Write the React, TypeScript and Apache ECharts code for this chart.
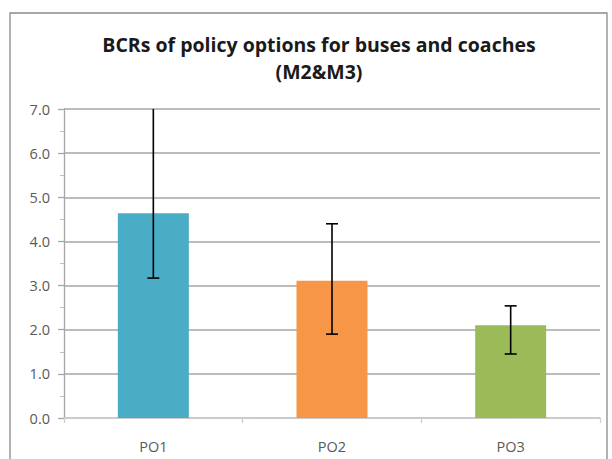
import React, { useEffect, useRef } from "react";
import * as echarts from "echarts";

const categories = ["PO1", "PO2", "PO3"];
const values = [4.64, 3.11, 2.1];
const lows = [3.17, 1.9, 1.45];
const highs = [7.6, 4.4, 2.54];
const barColors = ["#4BACC6", "#F79646", "#9BBB59"];
const yTicks = [0, 1, 2, 3, 4, 5, 6, 7];
const titleText = "BCRs of policy options for buses and coaches\n(M2&M3)";

export default function App() {
  const ref = useRef<HTMLDivElement>(null);
  useEffect(() => {
    if (!ref.current) return;
    const chart = echarts.init(ref.current, null, { renderer: "svg" });
    const yMax = yTicks[yTicks.length - 1];
    chart.setOption({
      animation: false,
      backgroundColor: "#ffffff",
      title: {
        text: titleText,
        left: 314,
        top: 26,
        textAlign: "center",
        textStyle: {
          fontFamily: "Open Sans",
          fontWeight: "bold",
          fontSize: 19.5,
          lineHeight: 27,
          color: "#1a1a1a",
        },
      },
      graphic: [
        {
          type: "rect",
          shape: { x: 10, y: 13, width: 597, height: 470 },
          style: { fill: "none", stroke: "#8a8a8a", lineWidth: 1.3 },
          silent: true,
          z: -1,
        },
      ],
      grid: { left: 64, right: 12, top: 109, bottom: 41, containLabel: false },
      xAxis: {
        type: "category",
        data: categories,
        axisLine: { lineStyle: { color: "#cfcfcf", width: 1.5 } },
        axisTick: { show: true, length: 5, lineStyle: { color: "#cfcfcf", width: 1.3 } },
        axisLabel: {
          fontFamily: "Open Sans",
          fontSize: 14.5,
          color: "#595959",
          margin: 21,
        },
      },
      yAxis: {
        type: "value",
        min: 0,
        max: yMax,
        interval: 1,
        axisLine: { show: true, lineStyle: { color: "#a6a6a6", width: 1.3 } },
        axisTick: { show: true, length: 6, lineStyle: { color: "#a6a6a6", width: 1.3 } },
        minorTick: { show: true, splitNumber: 2, length: 4, lineStyle: { color: "#bfbfbf" } },
        splitLine: { show: true, lineStyle: { color: "#a6a6a6", width: 1.5 } },
        axisLabel: {
          fontFamily: "Open Sans",
          fontSize: 14.5,
          color: "#595959",
          margin: 14,
          formatter: (v: number) => v.toFixed(1),
        },
      },
      series: [
        {
          type: "bar",
          barWidth: 71,
          data: values.map((v, i) => ({ value: v, itemStyle: { color: barColors[i] } })),
        },
        {
          type: "custom",
          data: categories.map((c, i) => [i, lows[i], highs[i]]),
          renderItem: (params: any, api: any) => {
            const x = api.value(0);
            const lo = api.value(1);
            const hi = api.value(2);
            const hiClipped = Math.min(hi, yMax);
            const pLo = api.coord([x, lo]);
            const pHi = api.coord([x, hiClipped]);
            const half = 6;
            const style = { stroke: "#000000", lineWidth: 1.6 };
            const children: any[] = [
              { type: "line", shape: { x1: pLo[0], y1: pLo[1], x2: pHi[0], y2: pHi[1] }, style },
              { type: "line", shape: { x1: pLo[0] - half, y1: pLo[1], x2: pLo[0] + half, y2: pLo[1] }, style },
            ];
            if (hi <= yMax) {
              children.push({
                type: "line",
                shape: { x1: pHi[0] - half, y1: pHi[1], x2: pHi[0] + half, y2: pHi[1] },
                style,
              });
            }
            return { type: "group", children };
          },
          z: 5,
        },
      ],
    });
    return () => chart.dispose();
  }, []);
  return (
    <div
      ref={ref}
      style={{ position: "fixed", left: 0, top: 0, width: 612, height: 459 }}
    />
  );
}
